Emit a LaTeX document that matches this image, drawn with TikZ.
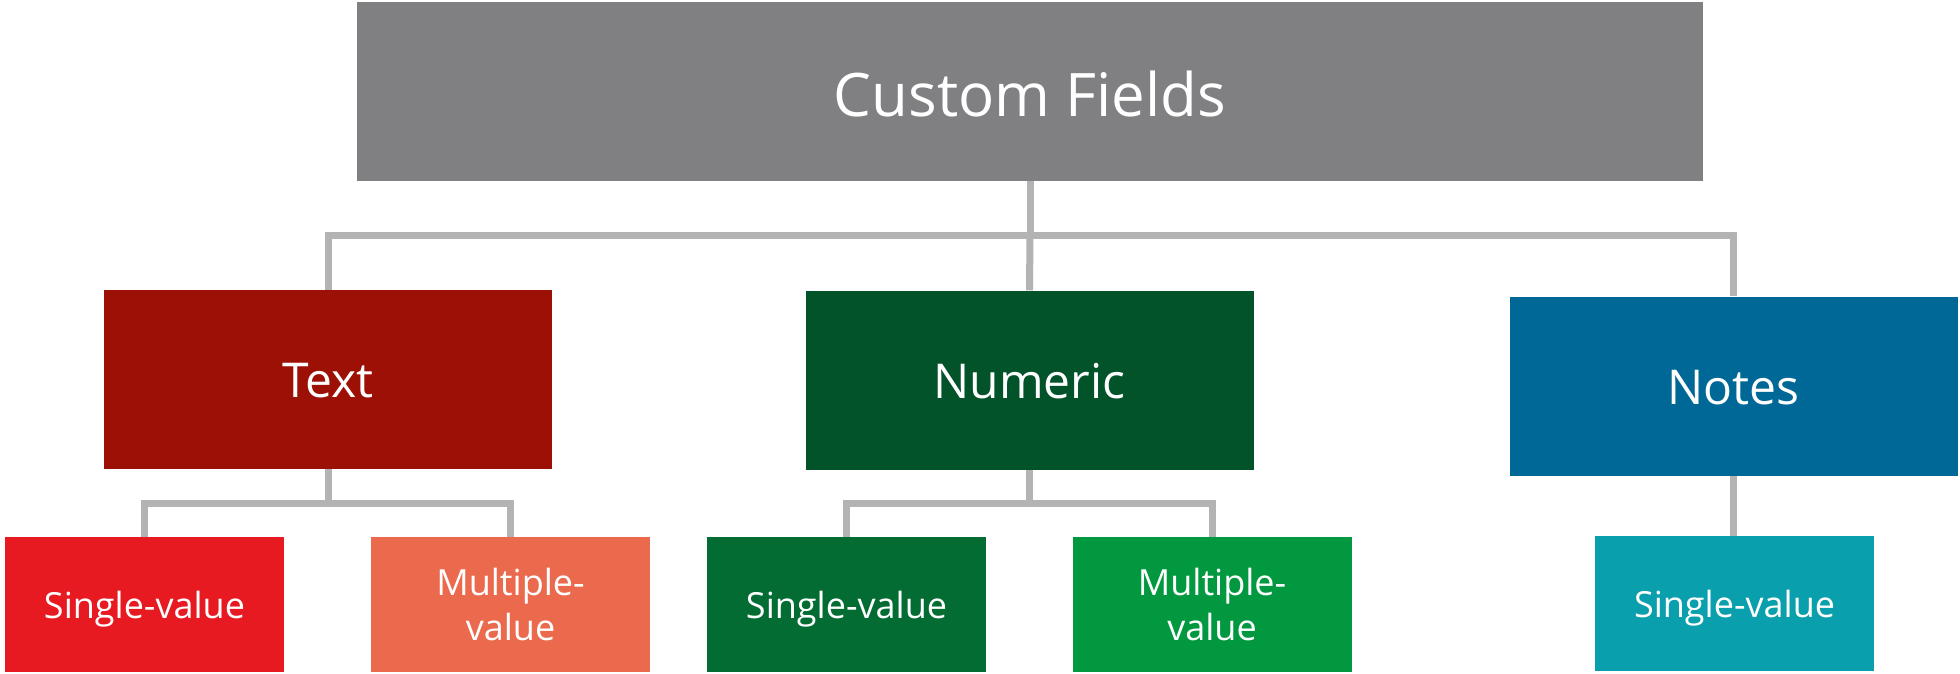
\documentclass[tikz,border=0pt]{standalone}
\usepackage{fontspec}
\setmainfont{Open Sans}
\definecolor{cgray}{HTML}{808083}
\definecolor{ctext}{HTML}{9C1006}
\definecolor{cnum}{HTML}{02532A}
\definecolor{cnotes}{HTML}{006897}
\definecolor{ctsingle}{HTML}{E71921}
\definecolor{ctmulti}{HTML}{EB6A4E}
\definecolor{cnsingle}{HTML}{026C33}
\definecolor{cnmulti}{HTML}{02983F}
\definecolor{cosingle}{HTML}{0A9FAC}
\definecolor{cline}{HTML}{B3B3B3}
\begin{document}
\begin{tikzpicture}[x=1pt,y=-1pt,
  box/.style={rectangle,inner sep=0pt,text=white,align=center,draw=none},
  topbox/.style={box,fill=cgray,minimum width=1346pt,minimum height=179pt,
    font=\fontsize{60}{72}\selectfont,text height=51pt,text depth=0pt},
  midbox/.style={box,minimum width=448pt,minimum height=179pt,
    font=\fontsize{48}{58}\selectfont,text height=36pt,text depth=0pt},
  leafbox/.style={box,minimum width=279pt,minimum height=135pt,
    font=\fontsize{36}{45}\selectfont,text height=28pt,text depth=0pt},
  multibox/.style={leafbox,text height=72pt,text depth=0pt},
  conn/.style={draw=cline,line width=7pt}]
\useasboundingbox (0,0) rectangle (1960,674);
\node[topbox] (top) at (1030,91.5) {Custom Fields};
\node[midbox,fill=ctext] (text) at (328,379.5) {Text};
\node[midbox,fill=cnum] (num) at (1029.5,380) {Numeric};
\node[midbox,fill=cnotes] (notes) at (1733.5,386) {Notes};
\node[leafbox,fill=ctsingle] (ts) at (144.5,604.5) {Single-value};
\node[multibox,fill=ctmulti] (tm) at (510.5,604.5) {Multiple-\\value};
\node[leafbox,fill=cnsingle] (ns) at (846.5,604.5) {Single-value};
\node[multibox,fill=cnmulti] (nm) at (1212,604.5) {Multiple-\\value};
\node[leafbox,fill=cosingle] (os) at (1734.5,603.5) {Single-value};
\coordinate (bus) at (1030,235.5);
\coordinate (tbus) at (328,503.5);
\coordinate (nbus) at (1029.5,503.5);
\draw[conn] (top.south) -- (bus);
\draw[conn] (bus) -- (num.north);
\draw[conn] (text.north) |- (bus) -| (notes.north);
\draw[conn] (text.south) -- (tbus);
\draw[conn] (ts.north) |- (tbus) -| (tm.north);
\draw[conn] (num.south) -- (nbus);
\draw[conn] (ns.north) |- (nbus) -| (nm.north);
\draw[conn] (notes.south) -- (os.north -| notes.south);
\end{tikzpicture}
\end{document}
